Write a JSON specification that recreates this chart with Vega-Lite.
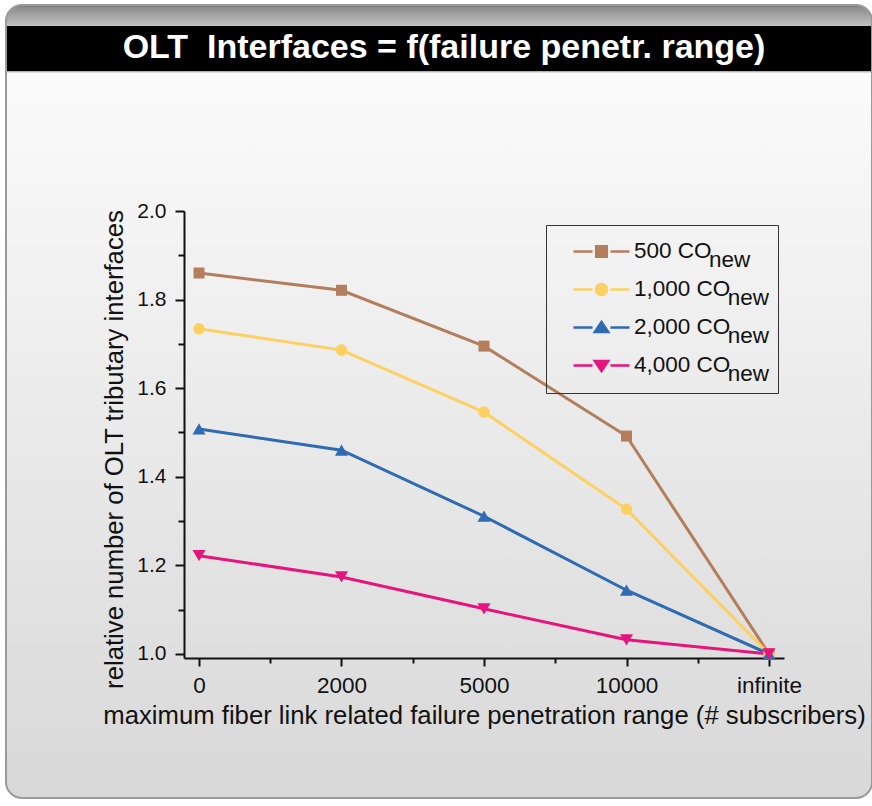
{
  "$schema": "https://vega.github.io/schema/vega-lite/v6.json",
  "width": 866,
  "height": 793,
  "autosize": {"type": "none"},
  "padding": {"left": 6, "top": 5, "right": 0, "bottom": 8},
  "background": "#ffffff",
  "config": {
    "font": "Liberation Sans",
    "view": {
      "fill": {"gradient": "linear", "x1": 0, "y1": 0, "x2": 0, "y2": 1,
        "stops": [
          {"offset": 0, "color": "#7a7a7a"},
          {"offset": 0.004, "color": "#8e8e8e"},
          {"offset": 0.0262, "color": "#c2c2c2"},
          {"offset": 0.0265, "color": "#000000"},
          {"offset": 0.0826, "color": "#000000"},
          {"offset": 0.0832, "color": "#9a9a9a"},
          {"offset": 0.086, "color": "#fbfbfb"},
          {"offset": 1, "color": "#d8d8d8"}
        ]},
      "stroke": "#9a9a9a",
      "strokeWidth": 2,
      "cornerRadius": 16
    }
  },
  "title": {
    "text": "OLT\u00a0 Interfaces = f(failure penetr. range)",
    "color": "#ffffff",
    "font": "Liberation Sans",
    "fontSize": 34,
    "fontWeight": "bold",
    "anchor": "middle",
    "frame": "group",
    "baseline": "alphabetic",
    "offset": 0,
    "dy": 87,
    "dx": 5
  },
  "data": {
    "values": [
      {"series": "500", "range": "0", "idx": 0, "value": 1.860},
      {"series": "500", "range": "2000", "idx": 1, "value": 1.821},
      {"series": "500", "range": "5000", "idx": 2, "value": 1.695},
      {"series": "500", "range": "10000", "idx": 3, "value": 1.492},
      {"series": "500", "range": "infinite", "idx": 4, "value": 1.0},
      {"series": "1,000", "range": "0", "idx": 0, "value": 1.734},
      {"series": "1,000", "range": "2000", "idx": 1, "value": 1.686},
      {"series": "1,000", "range": "5000", "idx": 2, "value": 1.546},
      {"series": "1,000", "range": "10000", "idx": 3, "value": 1.327},
      {"series": "1,000", "range": "infinite", "idx": 4, "value": 1.0},
      {"series": "2,000", "range": "0", "idx": 0, "value": 1.508},
      {"series": "2,000", "range": "2000", "idx": 1, "value": 1.460},
      {"series": "2,000", "range": "5000", "idx": 2, "value": 1.311},
      {"series": "2,000", "range": "10000", "idx": 3, "value": 1.144},
      {"series": "2,000", "range": "infinite", "idx": 4, "value": 1.0},
      {"series": "4,000", "range": "0", "idx": 0, "value": 1.222},
      {"series": "4,000", "range": "2000", "idx": 1, "value": 1.174},
      {"series": "4,000", "range": "5000", "idx": 2, "value": 1.102},
      {"series": "4,000", "range": "10000", "idx": 3, "value": 1.032},
      {"series": "4,000", "range": "infinite", "idx": 4, "value": 1.0}
    ]
  },
  "encoding": {
    "x": {
      "field": "idx", "type": "quantitative",
      "scale": {"domain": [-0.10526, 4.10526], "range": [178, 778], "nice": false, "zero": false},
      "axis": {
        "orient": "bottom",
        "offset": -140,
        "values": [0, 0.5, 1, 1.5, 2, 2.5, 3, 3.5, 4],
        "labelExpr": "datum.value % 1 === 0 ? ['0','2000','5000','10000','infinite'][datum.value] : ''",
        "labelOverlap": false,
        "labelFontSize": 22.5,
        "labelFont": "Liberation Sans",
        "labelColor": "#111111",
        "labelPadding": 8,
        "tickSize": {"condition": {"test": "datum.value % 1 === 0", "value": 8}, "value": 5},
        "tickColor": "#111111",
        "tickWidth": 2,
        "domainColor": "#111111",
        "domainWidth": 2,
        "grid": false,
        "title": "maximum fiber link related failure penetration range (# subscribers)",
        "titleFont": "Liberation Sans",
        "titleFontSize": 25.7,
        "titleFontWeight": "normal",
        "titleColor": "#111111",
        "titleBaseline": "alphabetic",
        "titleY": 65
      }
    },
    "y": {
      "field": "value", "type": "quantitative",
      "scale": {"domain": [0.99097, 2.0], "range": [653, 206], "nice": false, "zero": false},
      "axis": {
        "orient": "left",
        "offset": -178,
        "values": [1.0, 1.1, 1.2, 1.3, 1.4, 1.5, 1.6, 1.7, 1.8, 1.9, 2.0],
        "labelExpr": "round(datum.value * 10) % 2 === 0 ? format(datum.value, '.1f') : ''",
        "labelOverlap": false,
        "labelFontSize": 21,
        "labelFont": "Liberation Sans",
        "labelColor": "#111111",
        "labelPadding": 9,
        "tickSize": {"condition": {"test": "round(datum.value * 10) % 2 === 0", "value": 9}, "value": 6},
        "tickColor": "#111111",
        "tickWidth": 2,
        "domainColor": "#111111",
        "domainWidth": 2,
        "grid": false,
        "title": "relative number of OLT tributary interfaces",
        "titleFont": "Liberation Sans",
        "titleFontSize": 25.7,
        "titleFontWeight": "normal",
        "titleColor": "#111111",
        "titleBaseline": "alphabetic",
        "titleX": -62,
        "titleY": 444
      }
    },
    "color": {
      "field": "series", "type": "nominal",
      "scale": {"domain": ["500", "1,000", "2,000", "4,000"], "range": ["#b47e5c", "#fdd061", "#2e6bb3", "#e6147c"]},
      "legend": {
        "orient": "none",
        "legendX": 540,
        "legendY": 220,
        "title": null,
        "padding": 8,
        "strokeColor": "#333333",
        "symbolSize": 3136,
        "symbolOffset": 18,
        "symbolStrokeWidth": 2.5,
        "symbolOpacity": 1,
        "clipHeight": 37,
        "labelOffset": 3,
        "labelFont": "Liberation Sans",
        "labelFontSize": 22.5,
        "labelColor": "#111111",
        "labelBaseline": "alphabetic",
        "rowPadding": 0,
        "labelExpr": "[datum.label + ' CO', (datum.label === '500' ? '\u200b\u00a0\u00a0\u00a0\u00a0\u00a0\u00a0\u00a0\u00a0\u00a0\u00a0\u00a0\u00a0' : '\u200b\u00a0\u00a0\u00a0\u00a0\u00a0\u00a0\u00a0\u00a0\u00a0\u00a0\u00a0\u00a0\u00a0\u00a0\u00a0') + 'new']",
        "encode": {
          "symbols": {
            "update": {
              "shape": {"signal": "datum.value === '500' ? 'M-1,0H-0.32M0.32,0H1M-0.19,-0.19H0.19V0.19H-0.19Z' : datum.value === '1,000' ? 'M-1,0H-0.32M0.32,0H1M0.2,0A0.2,0.2,0,1,1,-0.2,0A0.2,0.2,0,1,1,0.2,0Z' : datum.value === '2,000' ? 'M-1,0H-0.32M0.32,0H1M0,-0.2L0.24,0.16L-0.24,0.16Z' : 'M-1,0H-0.32M0.32,0H1M0,0.2L0.24,-0.16L-0.24,-0.16Z'"},
              "fill": {"scale": "color", "field": "value"},
              "stroke": {"scale": "color", "field": "value"},
              "strokeWidth": {"value": 2.5},
              "opacity": {"value": 1}
            }
          },
          "labels": {
            "update": {
              "dy": {"value": 6},
              "lineHeight": {"value": 9}
            }
          }
        }
      }
    }
  },
  "layer": [
    {"mark": {"type": "line", "strokeWidth": 3}},
    {
      "transform": [{"filter": "datum.series === '500'"}],
      "mark": {"type": "point", "shape": "square", "filled": true, "opacity": 1, "size": 121}
    },
    {
      "transform": [{"filter": "datum.series === '1,000'"}],
      "mark": {"type": "point", "shape": "circle", "filled": true, "opacity": 1, "size": 135}
    },
    {
      "transform": [{"filter": "datum.series === '2,000'"}],
      "mark": {"type": "point", "shape": "triangle-up", "filled": true, "opacity": 1, "size": 170}
    },
    {
      "transform": [{"filter": "datum.series === '4,000'"}],
      "mark": {"type": "point", "shape": "triangle-down", "filled": true, "opacity": 1, "size": 170}
    }
  ]
}
